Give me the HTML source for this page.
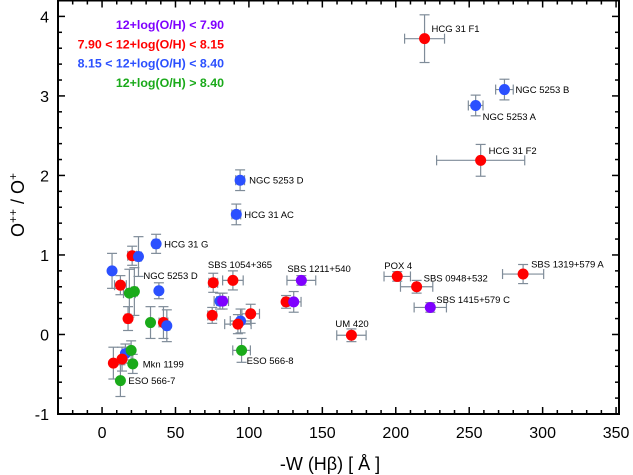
<!DOCTYPE html>
<html><head><meta charset="utf-8"><style>
body{margin:0;background:#fff}
svg{display:block;font-family:"Liberation Sans",sans-serif}
</style></head><body>
<svg id="chart" width="633" height="475"></svg>
<script>
const xVals=[219.6,257.8,274,254.4,94,91.4,36.8,20.5,24.8,6.8,12.5,18.6,22,38.7,17.7,33,41.8,44.1,75.7,89.1,80.3,82.1,75,94.3,101.2,92.5,95,15.9,19.8,13.6,7.7,20.9,12.5,135.7,125.3,130.5,201,214.2,223.5,169.8,286.7];
const yVals=[3.72,2.19,3.08,2.88,1.94,1.51,1.14,0.99,0.98,0.80,0.62,0.52,0.54,0.55,0.20,0.15,0.15,0.11,0.65,0.68,0.42,0.42,0.24,0.17,0.26,0.13,-0.20,-0.24,-0.20,-0.31,-0.36,-0.37,-0.58,0.68,0.41,0.41,0.73,0.60,0.34,-0.01,0.76];
const xErr=[13.6,30,6,5,3,3,2,3,2,0,4,4,2,1,2,0,3,2,3,7,4,4,3,7,6,9,6,0,0,0,0,0,0,9.8,2,5,9,11,11,10,14];
const yErr=[0.3,0.2,0.13,0.13,0.13,0.13,0.12,0.12,0.25,0.22,0.12,0.3,0.3,0.1,0.15,0.2,0.2,0.2,0.12,0.12,0.1,0.1,0.1,0.15,0.12,0.12,0.15,0.12,0.12,0.15,0.2,0.12,0.2,0.06,0.08,0.13,0.06,0.08,0.06,0.08,0.12];
const groups=[1,1,2,2,2,2,2,1,2,2,1,3,3,2,1,3,1,2,1,1,2,0,1,2,1,1,3,2,3,1,1,3,3,0,1,0,1,1,0,1,1];
const labels=["HCG 31 F1","HCG 31 F2","NGC 5253 B","NGC 5253 A","NGC 5253 D","HCG 31 AC","HCG 31 G","","","","","","NGC 5253 D","","","","","","","SBS 1054+365","","","","","","","ESO 566-8","","","","","Mkn 1199","ESO 566-7","SBS 1211+540","","","POX 4","SBS 0948+532","SBS 1415+579 C","UM 420","SBS 1319+579 A"];
const labelDx=[7,8,11,7,9,8,8,0,0,0,0,0,9,0,0,0,0,0,0,-25,0,0,0,0,0,0,5,0,0,0,0,10,8,-14,0,0,-13,7,6,-16,8];
const labelDy=[-10,-10,0,11,0,0,0,0,0,0,0,0,-16,0,0,0,0,0,0,-16,0,0,0,0,0,0,10,0,0,0,0,0,0,-12,0,0,-11,-9,-8,-12,-10];
const groupColors=["#7f00ff","#ff0000","#2b50ff","#1aaa1a"];
const legendText=["12+log(O/H) < 7.90","7.90 < 12+log(O/H) < 8.15","8.15 < 12+log(O/H) < 8.40","12+log(O/H) > 8.40"];
const xTicks=[0,50,100,150,200,250,300,350];
const yTicks=[-1,0,1,2,3,4];

const L=58,R=619,T=0.5,B=414;
const xMin=-30,xMax=352,yMin=-1,yMax=4.2;
const sx=v=>L+(v-xMin)/(xMax-xMin)*(R-L);
const sy=v=>B-(v-yMin)/(yMax-yMin)*(B-T);
const svg=document.getElementById('chart');
const NS="http://www.w3.org/2000/svg";
function mk(tag,attrs,parent){const e=document.createElementNS(NS,tag);for(const k in attrs)e.setAttribute(k,attrs[k]);(parent||svg).appendChild(e);return e;}

const frame=mk('rect',{x:L,y:T,width:R-L,height:B-T,fill:'none',stroke:'#000','stroke-width':2});



for(let v=-30;v<=350;v+=10){const X=sx(v);const maj=v%50===0;const len=maj?7:4;
 mk('line',{x1:X,y1:B,x2:X,y2:B-len,stroke:'#000','stroke-width':1.5});
 mk('line',{x1:X,y1:T,x2:X,y2:T+len,stroke:'#000','stroke-width':1.5});}
for(let i=0;i<=26;i++){const v=-1+i*0.2;if(v>4.2)break;const Y=sy(v);const maj=Math.abs(v-Math.round(v))<1e-6;const len=maj?7:4;
 mk('line',{x1:L,y1:Y,x2:L+len,y2:Y,stroke:'#000','stroke-width':1.5});
 mk('line',{x1:R,y1:Y,x2:R-len,y2:Y,stroke:'#000','stroke-width':1.5});}
xTicks.forEach(v=>{const t=mk('text',{x:sx(v),y:B+24,'text-anchor':'middle','font-size':16,fill:'#000'});t.textContent=v;
 
 });
yTicks.forEach(v=>{const t=mk('text',{x:L-9,y:sy(v)+6,'text-anchor':'end','font-size':16,fill:'#000'});t.textContent=v;
 
 });

const xt=mk('text',{x:330,y:470,'text-anchor':'middle','font-size':18,fill:'#000'});
xt.textContent='-W (Hβ) [ Å ]';


const yt=mk('text',{x:0,y:0,'text-anchor':'middle','font-size':18,fill:'#000',transform:'translate(24,205) rotate(-90)'});
yt.innerHTML='O<tspan dy="-7" font-size="12">++</tspan><tspan dy="7"> / O</tspan><tspan dy="-7" font-size="12">+</tspan>';



const eg=mk('g',{stroke:'#7f8c99','stroke-width':1.2,fill:'none'});


for(let i=0;i<xVals.length;i++){const X=sx(xVals[i]),Y=sy(yVals[i]);
 if(yErr[i]>0){const y1=sy(yVals[i]+yErr[i]),y2=sy(yVals[i]-yErr[i]);
  mk('line',{x1:X,y1:y1,x2:X,y2:y2},eg);mk('line',{x1:X-5,y1:y1,x2:X+5,y2:y1},eg);mk('line',{x1:X-5,y1:y2,x2:X+5,y2:y2},eg);}
 if(xErr[i]>0){const x1=sx(xVals[i]-xErr[i]),x2=sx(xVals[i]+xErr[i]);
  mk('line',{x1:x1,y1:Y,x2:x2,y2:Y},eg);mk('line',{x1:x1,y1:Y-5,x2:x1,y2:Y+5},eg);mk('line',{x1:x2,y1:Y-5,x2:x2,y2:Y+5},eg);}
}
for(let i=0;i<xVals.length;i++){
 const c=mk('circle',{cx:sx(xVals[i]),cy:sy(yVals[i]),r:5.5,fill:groupColors[groups[i]]});
 
 
 if(labels[i]){const t=mk('text',{x:sx(xVals[i])+labelDx[i],y:sy(yVals[i])+labelDy[i]+3.5,'font-size':9.5,fill:'#000'});
  t.textContent=labels[i];
  
  }
}
legendText.forEach((s,i)=>{const t=mk('text',{x:224,y:29+i*19.3,'text-anchor':'end','font-size':12.4,'font-weight':'bold',fill:groupColors[i]});
 t.textContent=s;
 
 });
</script>
</body></html>
